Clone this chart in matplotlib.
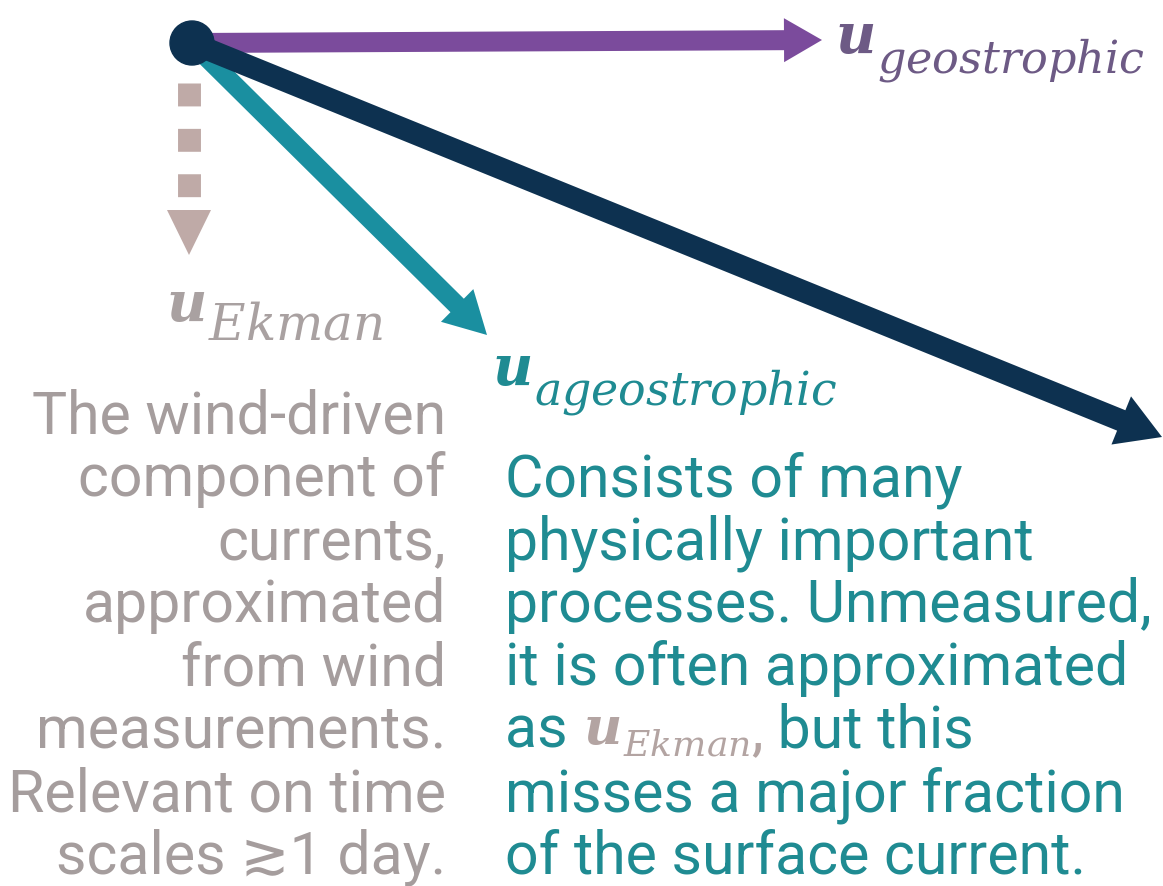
import matplotlib
matplotlib.use("Agg")
import matplotlib.pyplot as plt
from matplotlib.patches import Circle, Polygon

plt.rcParams['mathtext.fontset'] = 'dejavuserif'

# ---- data: vectors (pixel space, y downward) ----
origin = (192, 43)
v_geo = (630, -3)          # u_geostrophic
v_total = (970, 394)       # total surface current
v_ageo = (295, 292)        # u_ageostrophic
ekman_start = (189, 83)
v_ekman = (0, 172)         # u_Ekman

sub_geo = "geostrophic"
sub_ageo = "ageostrophic"
sub_ekman = "Ekman"

left_lines = ["The wind-driven", "component of", "currents,", "approximated",
              "from wind", "measurements.", "Relevant on time", "scales \u22731 day."]
right_lines = ["Consists of many", "physically important", "processes. Unmeasured,",
               "it is often approximated", None, "misses a major fraction",
               "of the surface current."]
inline_before = "as "
inline_after = " but this"

C_PURPLE = "#7b4b9c"
C_NAVY = "#0d3150"
C_TEAL = "#1a8fa0"
C_EKMAN = "#bfaaa7"
C_GREY_TXT = "#a59d9d"
C_TEAL_TXT = "#1f8b92"
C_GEO_LBL = "#6d5a85"
C_EK_LBL = "#a9a1a1"

fig = plt.figure(figsize=(11.63, 8.86), dpi=100)
ax = fig.add_axes([0, 0, 1, 1])
ax.set_xlim(0, 1163)
ax.set_ylim(886, 0)
ax.axis('off')
renderer = fig.canvas.get_renderer()

def right_edge(t):
    bb = t.get_window_extent(renderer=renderer)
    return ax.transData.inverted().transform((bb.x1, 0))[0]

def arrow(start, vec, width, hw, hl, color, z):
    ax.arrow(start[0], start[1], vec[0], vec[1], width=width, head_width=hw,
             head_length=hl, length_includes_head=True, color=color, lw=0, zorder=z)

arrow(origin, v_ageo, 19, 46, 42, C_TEAL, 2)
arrow(origin, v_geo, 20, 44, 38, C_PURPLE, 3)
arrow(origin, v_total, 22, 52, 44, C_NAVY, 4)
ax.add_patch(Circle(origin, 22, color=C_NAVY, zorder=5))

# Ekman dashed arrow
hl_e, hw_e = 45, 44
end = (ekman_start[0] + v_ekman[0], ekman_start[1] + v_ekman[1])
ax.plot([ekman_start[0], end[0]], [ekman_start[1], end[1] - hl_e],
        color=C_EKMAN, lw=16.5, solid_capstyle='butt', dash_capstyle='butt',
        linestyle=(0, (1.0, 0.98)), zorder=2)
ax.add_patch(Polygon([(end[0] - hw_e / 2, end[1] - hl_e), (end[0] + hw_e / 2, end[1] - hl_e),
                      end], closed=True, color=C_EKMAN, lw=0, zorder=2))

def vec_label(x, y, sub, color, usize=40, ssize=32, dy=19, gap=3, subcolor=None):
    t = ax.text(x, y, r"$\mathbfit{u}$", fontsize=usize, color=color,
                ha='left', va='baseline')
    x2 = right_edge(t) + gap
    t2 = ax.text(x2, y + dy, r"$\mathit{" + sub + "}$", fontsize=ssize,
                 color=subcolor or color, ha='left', va='baseline')
    return t2

vec_label(835, 53, sub_geo, C_GEO_LBL, ssize=32)
vec_label(492, 385, sub_ageo, C_TEAL_TXT, ssize=33)
vec_label(166, 321, sub_ekman, C_EK_LBL, ssize=36)

fam = ['Roboto', 'DejaVu Sans']
fs = 42.5
base0, step = 433, 63
for i, line in enumerate(left_lines):
    ax.text(446, base0 + i * step, line, fontsize=fs, family=fam, color=C_GREY_TXT,
            ha='right', va='baseline')
for i, line in enumerate(right_lines):
    y = base0 + (i + 1) * step
    if line is None:
        t1 = ax.text(505, y, inline_before, fontsize=fs, family=fam, color=C_TEAL_TXT,
                     ha='left', va='baseline')
        t2 = vec_label(right_edge(t1) + 1, y - 4, sub_ekman, "#b3a4a2", usize=38,
                       ssize=26, dy=12, gap=2)
        tc = ax.text(right_edge(t2) + 1, y, ",", fontsize=fs, family=fam,
                     color="#b3a4a2", ha='left', va='baseline')
        ax.text(right_edge(tc), y, inline_after, fontsize=fs, family=fam,
                color=C_TEAL_TXT, ha='left', va='baseline')
    else:
        ax.text(505, y, line, fontsize=fs, family=fam, color=C_TEAL_TXT,
                ha='left', va='baseline')

fig.savefig("out.png", dpi=100)
